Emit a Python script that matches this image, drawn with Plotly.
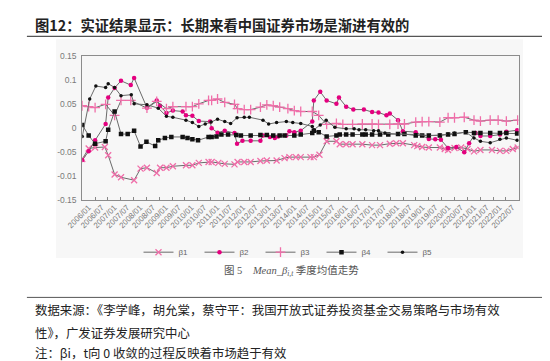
import plotly.graph_objects as go

W, H = 550, 361

# ---------------- data ----------------
b1_t = [0.00,0.25,0.50,0.88,1.01,1.26,1.51,2.02,2.27,2.52,2.90,3.03,3.28,3.53,4.04,4.29,4.54,4.92,5.04,5.30,
        5.55,5.93,6.05,6.31,6.56,6.94,7.19,7.57,7.88,8.07,8.32,8.51,8.89,9.02,9.24,9.52,9.90,10.03,10.28,10.53,
        10.91,11.29,11.60,11.98,12.23,12.49,12.93,13.05,13.24,13.50,13.93,14.12,14.25,14.50,14.76,15.01,15.26,
        15.51,15.96,16.27,16.52,16.77,16.96]
b1_v = [-0.064,-0.042,-0.040,-0.039,-0.056,-0.096,-0.102,-0.108,-0.084,-0.082,-0.093,-0.082,-0.082,-0.079,-0.077,
        -0.077,-0.072,-0.070,-0.070,-0.072,-0.074,-0.075,-0.070,-0.070,-0.070,-0.068,-0.067,-0.067,-0.062,-0.060,
        -0.060,-0.060,-0.060,-0.060,-0.055,-0.027,-0.027,-0.033,-0.033,-0.033,-0.033,-0.035,-0.035,-0.032,-0.031,
        -0.031,-0.035,-0.037,-0.039,-0.040,-0.040,-0.043,-0.045,-0.041,-0.040,-0.043,-0.048,-0.045,-0.045,-0.047,
        -0.047,-0.043,-0.040]

b2_t = [0.00,0.25,0.50,0.91,1.01,1.26,1.51,1.89,2.02,2.52,2.90,3.03,3.28,3.53,3.91,4.04,4.29,4.54,4.98,5.04,
        5.27,5.55,5.93,6.03,6.24,6.56,6.94,7.04,7.31,7.50,7.63,7.95,8.07,8.26,8.51,8.96,9.02,9.27,9.52,9.90,
        10.00,10.28,10.56,10.97,11.29,11.54,11.85,11.98,12.30,12.49,12.99,13.50,13.75,13.97,14.25,14.57,14.88,
        15.07,15.32,15.51,15.89,16.27,16.52,16.94]
b2_v = [-0.066,-0.048,-0.025,0.009,0.064,0.084,0.099,0.090,0.105,0.043,0.058,0.047,0.032,0.037,0.035,0.027,0.026,
        0.015,0.014,0.000,-0.009,-0.005,-0.010,-0.032,-0.026,-0.026,-0.026,-0.015,-0.018,-0.020,-0.017,-0.015,
        -0.006,-0.008,-0.005,0.014,0.058,0.076,0.058,0.051,0.064,0.045,0.039,0.039,0.034,0.033,0.027,0.031,0.017,
        -0.006,-0.008,-0.022,-0.023,-0.024,-0.041,-0.039,-0.050,-0.031,-0.010,-0.016,-0.016,-0.013,-0.007,-0.004]

b3_t = [0.00,0.25,0.50,0.91,1.26,1.51,1.89,2.52,2.90,3.28,3.53,4.04,4.29,4.54,4.92,5.04,5.27,5.55,5.93,6.05,
        6.31,6.56,6.94,7.19,7.44,7.69,8.01,8.26,8.51,8.96,9.21,9.52,9.90,10.15,10.53,10.91,11.29,11.54,11.98,
        12.30,12.55,12.99,13.24,13.50,13.93,14.25,14.50,14.88,15.26,15.51,15.89,16.20,16.52,16.96]
b3_v = [0.047,0.045,0.043,0.050,0.027,0.058,0.058,0.042,0.056,0.041,0.045,0.045,0.045,0.051,0.058,0.058,0.061,
        0.054,0.050,0.041,0.039,0.039,0.044,0.049,0.047,0.044,0.041,0.037,0.035,0.035,0.027,0.008,0.010,0.008,
        0.008,0.009,0.009,0.008,0.008,0.009,0.009,0.013,0.014,0.014,0.013,0.022,0.022,0.023,0.017,0.015,0.017,
        0.017,0.015,0.017]

b4_t = [0.00,0.25,0.50,0.91,1.01,1.26,1.51,1.77,2.02,2.27,2.50,2.84,2.96,3.22,3.47,3.91,4.10,4.29,4.51,4.92,
        5.04,5.23,5.42,5.68,6.00,6.18,6.56,6.94,7.19,7.44,7.69,7.88,8.26,8.51,8.96,9.02,9.21,9.52,9.90,10.03,
        10.28,10.53,10.91,11.04,11.29,11.60,11.92,12.30,12.55,12.99,13.24,13.50,13.93,14.25,14.50,14.94,15.26,
        15.51,15.89,16.27,16.52,16.94]
b4_v = [0.007,-0.015,-0.032,-0.027,-0.003,0.035,-0.012,-0.012,-0.005,-0.038,-0.028,-0.037,-0.025,-0.020,-0.018,
        -0.018,-0.020,-0.023,-0.025,-0.018,-0.018,-0.017,-0.013,-0.013,-0.014,-0.015,-0.015,-0.014,-0.014,-0.015,
        -0.015,-0.015,-0.015,-0.013,-0.010,-0.005,-0.008,-0.017,-0.015,-0.013,-0.013,-0.013,-0.013,-0.013,-0.013,
        -0.013,-0.013,-0.012,-0.012,-0.015,-0.015,-0.015,-0.015,-0.013,-0.012,-0.008,-0.010,-0.010,-0.010,-0.010,
        -0.010,-0.011]

b5_t = [0.00,0.29,0.53,0.91,1.01,1.26,1.51,1.91,2.02,2.52,2.96,3.28,3.53,4.04,4.29,4.54,4.79,5.02,5.27,5.55,
        5.78,6.03,6.31,6.51,7.04,7.26,7.57,7.95,8.20,8.51,8.96,9.02,9.27,9.50,9.84,10.28,10.59,10.78,11.04,11.35,
        11.54,11.79,12.30,12.99,13.50,13.93,14.25,14.50,14.94,15.26,15.51,15.89,16.27,16.52,16.94]
b5_v = [-0.017,0.061,0.088,0.085,0.093,0.085,0.068,0.070,0.051,0.049,0.042,0.025,0.023,0.017,0.012,0.004,0.009,
        0.013,0.019,0.014,0.010,0.022,0.023,0.023,0.017,0.009,0.012,0.014,0.012,0.010,0.004,-0.003,0.007,0.017,
        0.002,-0.001,-0.001,-0.003,-0.003,-0.005,-0.005,-0.010,-0.012,-0.013,-0.015,-0.014,-0.012,-0.010,-0.008,
        -0.020,-0.027,-0.030,-0.023,-0.020,-0.025]

start_year = 2006
years = list(range(2006, 2023))
tick_labels = [f"{y}/{m}" for y in years for m in ("01", "07")]
y_tickvals = [0.15, 0.1, 0.05, 0, -0.05, -0.1, -0.15]
y_ticktext = ["0.15", "0.1", "0.05", "0", "-0.05", "-0.01", "-0.15"]

title_text = "图12：实证结果显示：长期来看中国证券市场是渐进有效的"
caption_text = "图 5    <i>Mean</i>_<i>β</i><sub><i>i,t</i></sub> 季度均值走势"
source_lines = [
    "数据来源：《李学峰，胡允棠，蔡守平：我国开放式证券投资基金交易策略与市场有效",
    "性》，广发证券发展研究中心",
    "注：βi，t向 0 收敛的过程反映着市场趋于有效",
]

# ---------------- helpers ----------------
def px(x):
    return x / W

def py(y):
    return 1 - y / H

LINE = "#6a6a6a"
PINK = "#f06ea9"
MAGENTA = "#e4007f"

series = [
    ("β1", b1_t, b1_v, dict(symbol="x-thin", size=6, color=PINK, line=dict(color=PINK, width=1.3))),
    ("β2", b2_t, b2_v, dict(symbol="circle", size=4.5, color=MAGENTA, line=dict(width=0))),
    ("β3", b3_t, b3_v, dict(symbol="cross-thin", size=7, color=PINK, line=dict(color=PINK, width=1.3))),
    ("β4", b4_t, b4_v, dict(symbol="square", size=4.5, color="#111111", line=dict(width=0))),
    ("β5", b5_t, b5_v, dict(symbol="circle", size=3.5, color="#111111", line=dict(width=0))),
]

fig = go.Figure()
for name, t, v, mk in series:
    fig.add_trace(go.Scatter(
        x=[start_year + a for a in t], y=v, name=name, mode="lines+markers",
        line=dict(color=LINE, width=1), marker=mk, xaxis="x", yaxis="y",
    ))

# invisible trace to carry the label axis
fig.add_trace(go.Scatter(x=[start_year], y=[0], xaxis="x2", yaxis="y", mode="markers",
                         marker=dict(opacity=0), showlegend=False, hoverinfo="skip"))

x0, x1 = 60, 509.5
y_top, y_bot = 44.5, 192.7
dom_x = [px(x0), px(x1)]
dom_y = [py(y_bot), py(y_top)]

tick_font = dict(family="Liberation Sans, Arial, sans-serif", size=8, color="#7a7a7a")

fig.update_layout(
    width=W, height=H,
    margin=dict(l=0, r=0, t=0, b=0),
    paper_bgcolor="white",
    plot_bgcolor="rgba(0,0,0,0)",
    showlegend=True,
    legend=dict(orientation="h", x=0.5, xanchor="center", y=py(246), yanchor="middle",
                font=dict(family="Liberation Sans, Arial, sans-serif", size=8, color="#666"),
                itemwidth=30, entrywidth=16, entrywidthmode="pixels",
                bgcolor="rgba(0,0,0,0)", tracegroupgap=0),
    xaxis=dict(domain=dom_x, range=[2006, 2023], anchor="y",
               tickvals=[2006.5 + 0.5 * i for i in range(33)], showticklabels=False,
               ticks="inside", ticklen=3, tickcolor="#888", showgrid=False, zeroline=False,
               showline=True, linecolor="#8c8c8c", linewidth=1, mirror=True),
    xaxis2=dict(domain=dom_x, range=[2006, 2023], anchor="y", overlaying="x", matches="x",
                tickvals=[2006.25 + 0.5 * i for i in range(34)], ticktext=tick_labels,
                tickangle=-45, ticks="", tickfont=tick_font, showgrid=False, zeroline=False,
                showline=False, side="bottom"),
    yaxis=dict(domain=dom_y, range=[-0.15, 0.15], tickvals=y_tickvals, ticktext=y_ticktext,
               tickfont=dict(family="Liberation Sans, Arial, sans-serif", size=8.5, color="#7a7a7a"),
               ticks="", showgrid=False, zeroline=False, showline=True, linecolor="#8c8c8c",
               linewidth=1, mirror=True, ticklabelstandoff=3),
)

shapes = [
    dict(type="rect", xref="paper", yref="paper", x0=px(33), x1=px(514), y0=py(252), y1=py(27),
         fillcolor="#f7f7f7", line=dict(width=0), layer="below"),
    dict(type="line", xref="paper", yref="paper", x0=px(3), x1=px(547), y0=py(24), y1=py(24),
         line=dict(color="#555", width=1.2)),
    dict(type="line", xref="paper", yref="paper", x0=px(3), x1=px(547), y0=py(292.5), y1=py(292.5),
         line=dict(color="#555", width=1)),
]
fig.update_layout(shapes=shapes)

cjk = "Noto Sans CJK SC"
ann = [
    dict(text=f"<b>{title_text}</b>", x=px(9), y=py(12), xanchor="left", yanchor="middle",
         font=dict(family=cjk, size=14.3, color="#222")),
    dict(text=caption_text, x=px(275), y=py(265), xanchor="center", yanchor="middle",
         font=dict(family="Liberation Serif, " + cjk, size=10.5, color="#555")),
]
for i, (line, yy) in enumerate(zip(source_lines, [305, 329, 350])):
    ann.append(dict(text=line, x=px(9), y=py(yy), xanchor="left", yanchor="middle",
                    font=dict(family=cjk, size=12.4, color="#222")))
for a in ann:
    a.update(xref="paper", yref="paper", showarrow=False)
fig.update_layout(annotations=ann)

fig.write_html("out.html")
